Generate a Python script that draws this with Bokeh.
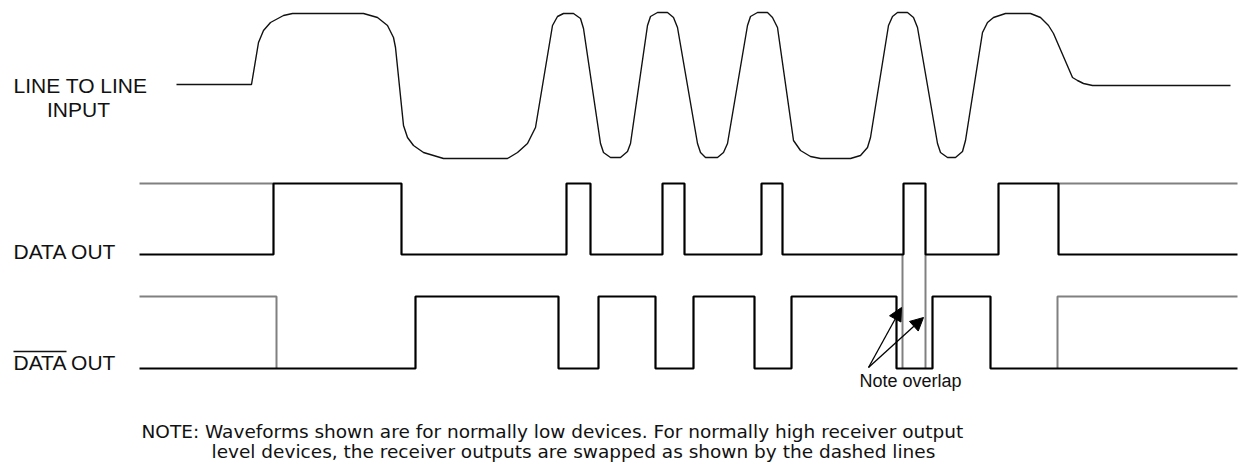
from bokeh.plotting import figure
from bokeh.models import Range1d, Arrow, NormalHead
from bokeh.embed import file_html
from bokeh.resources import INLINE
from bokeh.core.properties import value

# ---------------- data (time on x, signal level on y) ----------------
input_t = [176, 251, 258, 263, 270, 283, 292, 363, 377, 387, 393, 395, 403, 407, 413, 423, 443,
           507, 517, 527, 535, 552, 557, 563, 573, 580, 583, 600, 603, 610, 620, 627, 630,
           647, 650, 657, 667, 673, 677, 697, 700, 705, 717, 723, 727,
           747, 750, 757, 767, 772, 777, 793, 800, 810, 820, 850, 860, 867, 870,
           888, 892, 897, 907, 913, 917, 937, 940, 947, 955, 962, 965,
           982, 987, 993, 1005, 1030, 1040, 1048, 1053, 1072, 1077, 1083, 1092, 1230]
input_y = [84, 84, 42, 30, 22, 15, 13, 13, 17, 25, 37, 47, 125, 137, 145, 152, 158,
           158, 152, 143, 127, 25, 16, 13, 13, 18, 28, 143, 152, 157, 157, 151, 143,
           25, 16, 12, 12, 17, 27, 143, 152, 157, 157, 152, 143,
           25, 16, 12, 12, 17, 27, 140, 150, 156, 158, 158, 155, 147, 137,
           25, 16, 12, 12, 17, 27, 143, 152, 157, 157, 151, 140,
           32, 22, 17, 13, 13, 17, 25, 33, 77, 80, 83, 85, 85]

# DATA OUT (normally low device): edge times and logic state after each edge
data_t = [139, 273, 401, 566, 590, 662, 684, 761, 782, 903, 925, 998, 1058, 1237]
data_s = [0, 1, 0, 1, 0, 1, 0, 1, 0, 1, 0, 1, 0, 0]
# /DATA OUT
datab_t = [139, 415, 558, 598, 655, 693, 754, 791, 896, 932, 990, 1237]
datab_s = [0, 1, 0, 1, 0, 1, 0, 1, 0, 1, 0, 0]

# swapped outputs for normally-high devices (grey lines)
data_alt_t = [[139, 273], [1058, 1237]]
data_alt_s = [[1, 1], [1, 1]]
datab_alt_t = [[139, 276, 276], [1057, 1057, 1237]]
datab_alt_s = [[1, 1, 0], [0, 1, 1]]
overlap_t = [902, 925]

# ---------------- layout ----------------
DATA_HI, DATA_LO = 183, 254
DATAB_HI, DATAB_LO = 296, 368
BLACK = "#000000"
GREY = "#808080"
FONT = "Liberation Sans"

p = figure(width=1238, height=464, x_range=Range1d(0, 1238), y_range=Range1d(464, 0),
           output_backend="svg", toolbar_location=None,
           x_axis_location=None, y_axis_location=None, min_border=0)
p.outline_line_color = None
p.grid.visible = False
p.background_fill_color = "white"
p.border_fill_color = "white"


def lvl(states, hi, lo):
    return [hi if s else lo for s in states]


# analog input
p.line(input_t, input_y, line_color="#111111", line_width=1.4)

# grey (dashed-meaning) swapped outputs
p.multi_line(data_alt_t, [lvl(s, DATA_HI, DATA_LO) for s in data_alt_s],
             line_color=GREY, line_width=2)
p.multi_line(datab_alt_t, [lvl(s, DATAB_HI, DATAB_LO) for s in datab_alt_s],
             line_color=GREY, line_width=2)
p.multi_line([[t, t] for t in overlap_t], [[DATA_LO, DATAB_LO] for _ in overlap_t],
             line_color=GREY, line_width=2)

# digital outputs
p.step(data_t, lvl(data_s, DATA_HI, DATA_LO), mode="after", line_color=BLACK, line_width=2.2)
p.step(datab_t, lvl(datab_s, DATAB_HI, DATAB_LO), mode="after", line_color=BLACK, line_width=2.2)

# labels
lab_x = [80, 78, 13, 13]
lab_y = [85, 109, 251, 362]
lab_t = ["LINE TO LINE", "INPUT", "DATA OUT", "DATA OUT"]
lab_a = ["center", "center", "left", "left"]
p.text(x=lab_x, y=lab_y, text=lab_t, text_align=lab_a, text_baseline="alphabetic",
       text_font=value(FONT), text_font_size="21px", text_color="#111111")
# overline of /DATA
p.segment(x0=[13], y0=[351], x1=[66], y1=[351], line_color="#111111", line_width=1.6)

# note overlap arrows
for tx, ty in [(901, 307), (923, 317)]:
    p.add_layout(Arrow(end=NormalHead(size=13, fill_color=BLACK, line_color=BLACK, line_width=1),
                       x_start=868, y_start=367, x_end=tx, y_end=ty,
                       line_color=BLACK, line_width=1.3))
p.text(x=[910], y=[380], text=["Note overlap"], text_align="center", text_baseline="alphabetic",
       text_font=value(FONT), text_font_size="18px", text_color="#111111")

# footnote
p.text(x=[141, 211], y=[431, 451],
       text=["NOTE: Waveforms shown are for normally low devices. For normally high receiver output",
             "level devices, the receiver outputs are swapped as shown by the dashed lines"],
       text_align="left", text_baseline="alphabetic",
       text_font=value("DejaVu Sans"), text_font_size="18.5px", text_color="#111111")

open("out.html", "w").write(file_html(p, INLINE))
